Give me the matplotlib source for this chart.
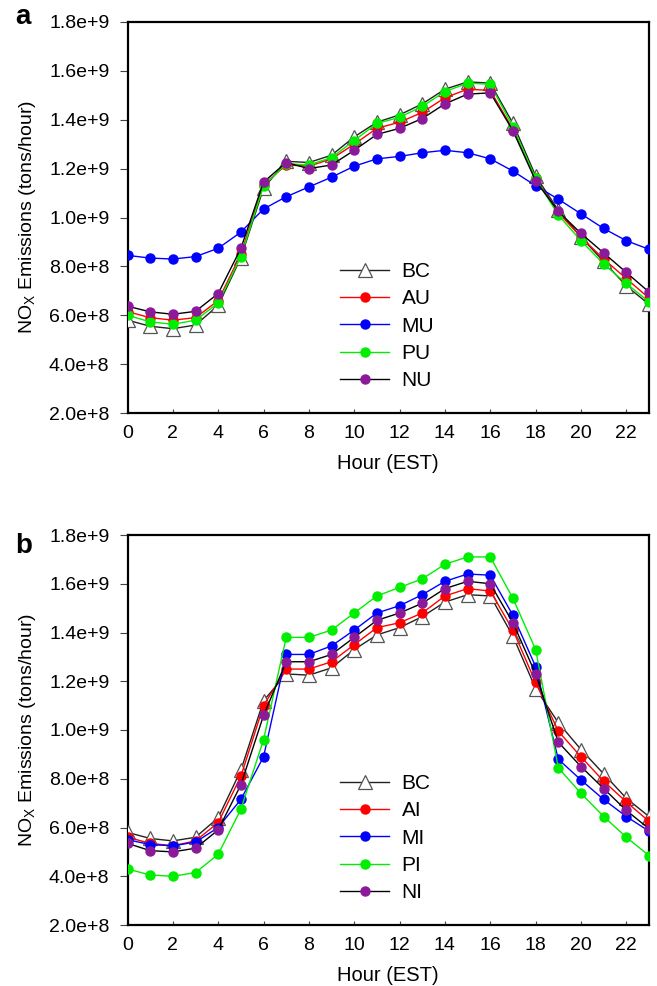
import matplotlib
matplotlib.use("Agg")
import matplotlib.pyplot as plt
from matplotlib.ticker import FuncFormatter, MultipleLocator

plt.rcParams['font.family'] = ['Liberation Sans', 'DejaVu Sans']

hours = list(range(24))

BC = [5.8e8, 5.55e8, 5.45e8, 5.6e8, 6.4e8, 8.35e8, 11.2e8, 12.3e8, 12.25e8, 12.55e8, 13.3e8, 13.9e8,
      14.2e8, 14.65e8, 15.25e8, 15.55e8, 15.5e8, 13.85e8, 11.7e8, 10.3e8, 9.2e8, 8.2e8, 7.2e8, 6.45e8]

AU = [6.15e8, 5.9e8, 5.8e8, 5.9e8, 6.6e8, 8.5e8, 11.35e8, 12.15e8, 12.1e8, 12.4e8, 13.0e8, 13.65e8,
      13.9e8, 14.3e8, 14.9e8, 15.25e8, 15.2e8, 13.6e8, 11.6e8, 10.2e8, 9.2e8, 8.3e8, 7.5e8, 6.7e8]
MU = [8.45e8, 8.34e8, 8.3e8, 8.4e8, 8.74e8, 9.4e8, 10.35e8, 10.85e8, 11.25e8, 11.65e8, 12.1e8, 12.4e8,
      12.5e8, 12.65e8, 12.75e8, 12.65e8, 12.4e8, 11.9e8, 11.3e8, 10.75e8, 10.15e8, 9.55e8, 9.05e8, 8.7e8]
PU = [6.0e8, 5.73e8, 5.63e8, 5.8e8, 6.5e8, 8.4e8, 11.3e8, 12.2e8, 12.15e8, 12.45e8, 13.15e8, 13.85e8,
      14.1e8, 14.55e8, 15.15e8, 15.5e8, 15.45e8, 13.7e8, 11.6e8, 10.1e8, 9.05e8, 8.1e8, 7.3e8, 6.55e8]
NU = [6.37e8, 6.14e8, 6.04e8, 6.16e8, 6.89e8, 8.74e8, 11.45e8, 12.25e8, 12.0e8, 12.15e8, 12.75e8, 13.4e8,
      13.65e8, 14.05e8, 14.65e8, 15.05e8, 15.1e8, 13.55e8, 11.5e8, 10.25e8, 9.35e8, 8.55e8, 7.75e8, 6.95e8]

AI = [5.6e8, 5.35e8, 5.25e8, 5.45e8, 6.2e8, 8.1e8, 11.0e8, 12.5e8, 12.5e8, 12.8e8, 13.5e8, 14.2e8,
      14.4e8, 14.8e8, 15.5e8, 15.8e8, 15.7e8, 14.1e8, 11.95e8, 9.95e8, 8.9e8, 7.9e8, 7.05e8, 6.25e8]
MI = [5.5e8, 5.3e8, 5.25e8, 5.4e8, 6.0e8, 7.15e8, 8.9e8, 13.1e8, 13.1e8, 13.45e8, 14.1e8, 14.8e8,
      15.1e8, 15.55e8, 16.1e8, 16.4e8, 16.35e8, 14.7e8, 12.6e8, 8.8e8, 7.95e8, 7.15e8, 6.45e8, 5.85e8]
PI = [4.3e8, 4.05e8, 4.0e8, 4.15e8, 4.9e8, 6.75e8, 9.6e8, 13.8e8, 13.8e8, 14.1e8, 14.8e8, 15.5e8,
      15.85e8, 16.2e8, 16.8e8, 17.1e8, 17.1e8, 15.4e8, 13.3e8, 8.45e8, 7.4e8, 6.45e8, 5.6e8, 4.85e8]
NI = [5.35e8, 5.05e8, 5.0e8, 5.15e8, 5.9e8, 7.75e8, 10.6e8, 12.8e8, 12.8e8, 13.1e8, 13.8e8, 14.5e8,
      14.8e8, 15.2e8, 15.8e8, 16.1e8, 16.0e8, 14.4e8, 12.3e8, 9.5e8, 8.5e8, 7.6e8, 6.7e8, 5.95e8]

panel_a = [("AU", AU, 'red', 'red'), ("MU", MU, 'blue', 'blue'), ("PU", PU, '#00ee00', '#00ee00'),
           ("NU", NU, 'black', '#8b1a9a')]
panel_b = [("AI", AI, 'red', 'red'), ("MI", MI, 'blue', 'blue'), ("PI", PI, '#00ee00', '#00ee00'),
           ("NI", NI, 'black', '#8b1a9a')]


def fmt(v, pos):
    s = "%.1e" % v
    m, e = s.split('e')
    return "%se+%d" % (m, int(e))


fig = plt.figure(figsize=(6.57, 9.86), dpi=100)
W, H = 657, 986
axes_px = [(127.5, 22, 649, 413), (127.5, 535, 649, 925)]
panels = [("a", panel_a, 24), ("b", panel_b, 553)]

for (x0, y0, x1, y1), (lab, series, ly) in zip(axes_px, panels):
    ax = fig.add_axes([x0 / W, 1 - y1 / H, (x1 - x0) / W, (y1 - y0) / H])
    handles = []
    h, = ax.plot(hours, BC, color='#222222', lw=1.0, marker='^', ms=9.5, mfc='white',
                 mec='#555555', mew=0.9, zorder=3, label='BC')
    handles.append(h)
    for name, vals, lc, mc in series:
        h, = ax.plot(hours, vals, color=lc, lw=1.0, marker='o', ms=6.5, mfc=mc, mec=mc,
                     zorder=4, label=name)
        handles.append(h)
    ax.set_xlim(0, 23)
    ax.set_ylim(2e8, 1.8e9)
    ax.xaxis.set_major_locator(MultipleLocator(2))
    ax.yaxis.set_major_locator(MultipleLocator(2e8))
    ax.yaxis.set_major_formatter(FuncFormatter(fmt))
    ax.tick_params(axis='y', direction='out', length=6, width=0.8, color='#444444',
                   labelsize=14, pad=7)
    ax.tick_params(axis='x', direction='in', length=3, width=0.8, color='#444444',
                   labelsize=14, pad=9)
    for sp in ax.spines.values():
        sp.set_linewidth(1.6)
    ax.set_xlabel("Hour (EST)", fontsize=14.5, labelpad=8)
    ax.set_ylabel("NO$_\\mathregular{X}$ Emissions (tons/hour)", fontsize=14, labelpad=8)
    ax.legend(handles=handles, loc='lower left', bbox_to_anchor=(0.372, 0.01), frameon=False,
              fontsize=15, handlelength=2.35, labelspacing=0.4, handletextpad=0.6)
    fig.text(15 / W, 1 - ly / H, lab, fontsize=20, fontweight='bold', ha='left', va='baseline')

fig.savefig("out.png", dpi=100)
